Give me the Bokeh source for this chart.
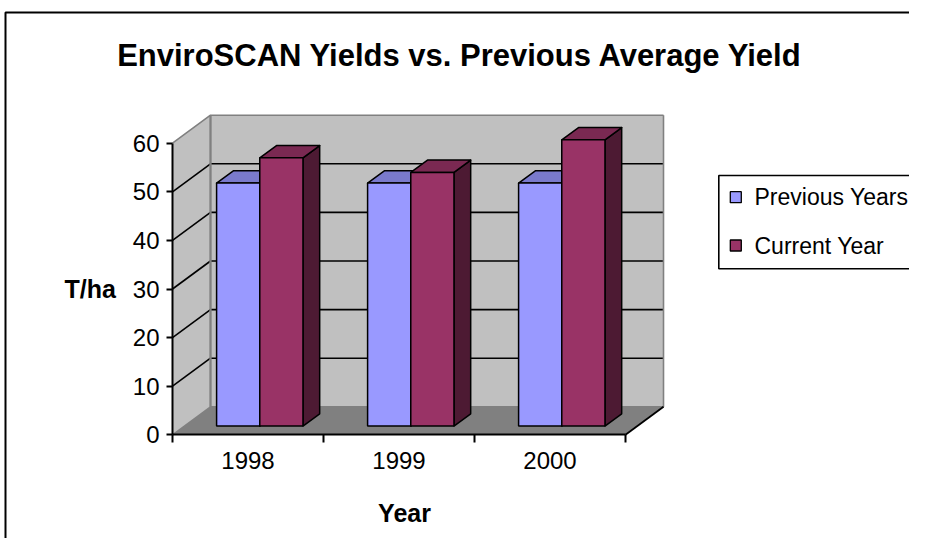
from bokeh.plotting import figure
from bokeh.models import FixedTicker, LinearAxis, Range1d
from bokeh.core.properties import value
from bokeh.embed import file_html
from bokeh.resources import INLINE

# ---------------- data ----------------
chart_title = "EnviroSCAN Yields vs. Previous Average Yield"
years = ["1998", "1999", "2000"]
series_names = ["Previous Years", "Current Year"]
previous_years = [50, 50, 50]
current_year = [55.2, 52.2, 58.9]
value_ticks = [0, 10, 20, 30, 40, 50, 60]
y_axis_title = "T/ha"
x_axis_title = "Year"

front_colors = ["#9999FF", "#993366"]
top_colors = ["#7A7ACC", "#7A2952"]
side_colors = ["#6B6BB3", "#4D1A33"]
WALL = "#C0C0C0"
FLOOR = "#808080"
EDGE = "#808080"
FONT = "Liberation Sans"

# ---------------- layout (picture pixels) ----------------
W, H = 909, 538
ORIGIN = 0
AX_X, AX_Y = 172.0, 434.3      # front-left-bottom corner of the plot cube
CAT_PX, VAL_PX = 151.0, 4.86   # pixels per category, pixels per value unit
DEPTH_X_PX, DEPTH_Y_PX = 38.0, 28.0

def px_x(px):
    return (px - AX_X) / CAT_PX

def px_y(py):
    return (AX_Y - py) / VAL_PX

xr = Range1d(px_x(ORIGIN), px_x(ORIGIN + W))
yr = Range1d(px_y(ORIGIN + H), px_y(ORIGIN))
DX = DEPTH_X_PX / CAT_PX
DV = DEPTH_Y_PX / VAL_PX

n = len(years)
vmax = max(value_ticks)

p = figure(width=W, height=H, x_range=xr, y_range=yr, output_backend="svg",
           toolbar_location=None, min_border=0)
p.min_border_left = p.min_border_right = p.min_border_top = p.min_border_bottom = 0
p.outline_line_color = None
p.xgrid.visible = False
p.ygrid.visible = False
p.background_fill_color = "white"
p.border_fill_color = "white"

# ---------------- walls & floor ----------------
p.patch([0, n, n + DX, DX], [0, 0, DV, DV], fill_color=FLOOR, line_color=None)
p.patch([0, 0, DX, DX], [0, vmax, vmax + DV, DV], fill_color=WALL, line_color=None)
p.patch([DX, DX, n + DX, n + DX], [DV, vmax + DV, vmax + DV, DV], fill_color=WALL, line_color=None)

inner = [t for t in value_ticks if 0 < t < vmax]
# back wall gridlines
p.multi_line([[DX, n + DX] for t in inner], [[t + DV, t + DV] for t in inner],
             line_color="black", line_width=1.6)
# side wall gridlines
p.multi_line([[0, DX] for t in inner], [[t, t + DV] for t in inner],
             line_color="black", line_width=1.6)
# gray wall edges
p.multi_line([[0, DX, DX, n + DX, n + DX], [0, DX, n + DX]],
             [[vmax, vmax + DV, DV, DV, vmax + DV], [0, DV, DV]],
             line_color=EDGE, line_width=1.6)
p.multi_line([[DX, DX, n + DX], [DX, DX]],
             [[DV, vmax + DV, vmax + DV], [vmax + DV, DV]],
             line_color=EDGE, line_width=1.6)
# floor right edge
p.line([n, n + DX], [0, DV], line_color="black", line_width=1.8)

# ---------------- bars ----------------
ZF, ZB = 0.31, 0.75
BW = 0.286
GAP = (1 - 2 * BW) / 2
ddx = (ZB - ZF) * DX
ddv = (ZB - ZF) * DV
sx, sy, sc = [], [], []
tx, ty, tc = [], [], []
fl, fr, fb, ft, fc = [], [], [], [], []
for i in range(n):
    for s, vals in enumerate([previous_years, current_year]):
        v = vals[i]
        xl = i + GAP + s * BW + ZF * DX
        xrt = xl + BW
        yb = ZF * DV
        yt = v + ZF * DV
        fl.append(xl); fr.append(xrt); fb.append(yb); ft.append(yt); fc.append(front_colors[s])
        tx.append([xl, xrt, xrt + ddx, xl + ddx]); ty.append([yt, yt, yt + ddv, yt + ddv]); tc.append(top_colors[s])
        sx.append([xrt, xrt + ddx, xrt + ddx, xrt]); sy.append([yb, yb + ddv, yt + ddv, yt]); sc.append(side_colors[s])

p.patches(sx, sy, fill_color=sc, line_color="black", line_width=1.5, line_join="round")
p.patches(tx, ty, fill_color=tc, line_color="black", line_width=1.5, line_join="round")
p.quad(left=fl, right=fr, bottom=fb, top=ft, fill_color=fc, line_color="black", line_width=1.5)

# ---------------- axes ----------------
yax = p.yaxis[0]
yax.fixed_location = 0
yax.bounds = (0, vmax)
yax.ticker = FixedTicker(ticks=value_ticks)
yax.major_tick_in = 0
yax.major_tick_out = 6
yax.minor_tick_line_color = None
yax.axis_line_width = 2
yax.major_tick_line_width = 2
yax.major_label_text_font = FONT
yax.major_label_text_font_size = "24px"
yax.major_label_text_color = "black"
yax.major_label_standoff = 7

xax = p.xaxis[0]
xax.fixed_location = 0
xax.bounds = (0, n)
xax.ticker = FixedTicker(ticks=list(range(n + 1)))
xax.major_label_overrides = {i: "" for i in range(n + 1)}
xax.major_tick_in = 0
xax.major_tick_out = 8
xax.minor_tick_line_color = None
xax.axis_line_width = 2
xax.major_tick_line_width = 2

lab = LinearAxis(fixed_location=0, bounds=(0, n),
                 ticker=FixedTicker(ticks=[i + 0.5 for i in range(n)]),
                 major_label_overrides={i + 0.5: y for i, y in enumerate(years)},
                 axis_line_color=None, major_tick_line_color=None, minor_tick_line_color=None,
                 major_tick_in=0, major_tick_out=0,
                 major_label_text_font=FONT, major_label_text_font_size="24px",
                 major_label_text_color="black", major_label_standoff=17)
p.add_layout(lab, "below")

# ---------------- titles ----------------
p.text(x=[px_x(459.5)], y=[px_y(55)], text=[chart_title], text_font=value(FONT),
       text_font_size=value("31px"), text_font_style="bold", text_align="center",
       text_baseline="middle", text_color="black")
p.text(x=[px_x(64)], y=[px_y(288)], text=[y_axis_title], text_font=value(FONT),
       text_font_size=value("25px"), text_font_style="bold", text_align="left",
       text_baseline="middle", text_color="black")
p.text(x=[px_x(404)], y=[px_y(512)], text=[x_axis_title], text_font=value(FONT),
       text_font_size=value("25px"), text_font_style="bold", text_align="center",
       text_baseline="middle", text_color="black")

# ---------------- legend ----------------
p.quad(left=[px_x(718.3)], right=[px_x(960)], top=[px_y(175)], bottom=[px_y(268.3)],
       fill_color="white", line_color="black", line_width=1.6)
leg_y = [196.7, 245.0]
p.scatter(x=[px_x(735.3)] * 2, y=[px_y(v) for v in leg_y], marker="square", size=11,
          fill_color=front_colors, line_color="black", line_width=1.3)
p.text(x=[px_x(754)] * 2, y=[px_y(v) for v in leg_y], text=series_names, text_font=value(FONT),
       text_font_size=value("23px"), text_align="left", text_baseline="middle", text_color="black")

# ---------------- chart border ----------------
p.line([px_x(5), px_x(5), px_x(960)], [px_y(600), px_y(12), px_y(12)],
       line_color="black", line_width=2)

open("out.html", "w").write(file_html(p, INLINE))
